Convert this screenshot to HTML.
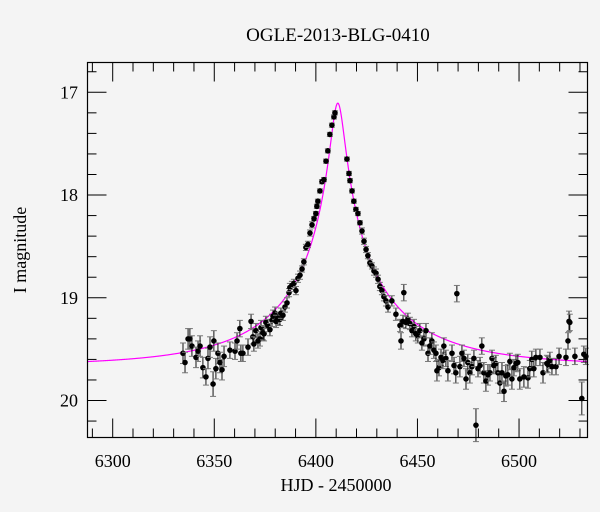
<!DOCTYPE html>
<html><head><meta charset="utf-8"><style>
body{margin:0;background:#f4f4f4;}
svg{display:block;font-family:"Liberation Serif",serif;}
</style></head><body>
<svg id="chart" width="600" height="512" xmlns="http://www.w3.org/2000/svg">
<rect width="600" height="512" fill="#f4f4f4"/>
<text x="338" y="41" font-size="19" text-anchor="middle">OGLE-2013-BLG-0410</text>
<text x="336" y="491" font-size="18" text-anchor="middle">HJD - 2450000</text>
<text transform="translate(26,250) rotate(-90)" font-size="18" text-anchor="middle">I magnitude</text>
<g id="axes"></g><g id="curve"></g><g id="pts"></g>
<rect x="87.5" y="62.5" width="500" height="375" fill="none" stroke="#000" stroke-width="1.2"/>
</svg>
<script>
const times=[6334.6,6335.6,6337.1,6338.0,6339.0,6341.0,6342.0,6343.0,6344.4,6345.9,6346.9,6347.9,6349.4,6349.8,6350.8,6351.8,6352.8,6353.8,6354.8,6357.7,6360.2,6361.2,6362.6,6363.1,6364.1,6366.6,6368.1,6369.0,6369.5,6370.5,6371.5,6372.5,6373.0,6374.0,6374.5,6375.4,6376.4,6377.4,6378.4,6378.9,6379.9,6380.4,6381.3,6382.3,6382.8,6383.8,6384.8,6385.8,6386.8,6387.2,6388.2,6389.2,6390.2,6391.2,6392.2,6393.2,6394.1,6395.1,6396.1,6397.1,6398.1,6399.1,6400.0,6400.5,6401.0,6402.0,6403.0,6404.0,6405.0,6405.9,6406.9,6407.9,6408.9,6409.4,
6415.3,6416.3,6416.8,6417.8,6418.7,6419.7,6420.7,6421.7,6422.7,6423.7,6424.7,6425.6,6426.6,6427.6,6428.6,6429.6,6430.6,6431.5,6432.5,6433.5,6434.5,6435.5,6437.4,6439.4,6441.4,6441.9,6442.9,6443.3,6444.3,6445.3,6446.3,6447.3,6448.3,6449.2,6450.2,6451.2,6452.2,6453.2,6454.2,6455.2,6456.1,6457.1,6458.1,6459.1,6459.6,6460.6,6461.6,6462.5,6463.0,6464.0,6465.0,6467.0,6468.0,6468.9,6469.4,6470.9,6471.9,6472.9,6473.9,6474.8,6475.8,6476.8,6477.8,6478.8,6479.8,6480.8,6481.7,6482.7,6483.7,6484.7,6485.7,6486.7,6487.6,6488.6,6489.6,6490.6,6491.6,6492.6,6493.5,6494.5,6495.5,6496.5,6497.5,6498.5,6499.4,6500.4,6502.4,6504.4,6505.3,6506.3,6507.3,6508.3,6510.3,6511.8,6513.7,6514.2,6515.2,6516.2,6518.2,6519.7,6523.1,6524.1,6524.6,6525.0,6527.5,6530.9,6531.9,6532.9];
const mags=[19.54,19.63,19.40,19.40,19.47,19.58,19.52,19.47,19.68,19.77,19.59,19.48,19.84,19.42,19.69,19.54,19.63,19.70,19.57,19.51,19.52,19.42,19.30,19.54,19.54,19.48,19.23,19.38,19.45,19.32,19.42,19.40,19.29,19.34,19.35,19.24,19.27,19.31,19.22,19.18,19.15,19.23,19.20,19.21,19.15,19.17,19.09,19.05,18.95,18.90,18.88,18.86,18.93,18.81,18.78,18.72,18.65,18.51,18.48,18.37,18.29,18.23,18.18,18.11,18.06,17.96,17.87,17.85,17.67,17.57,17.41,17.32,17.24,17.20,
17.65,17.79,17.86,17.96,18.06,18.14,18.18,18.27,18.35,18.45,18.53,18.59,18.66,18.69,18.74,18.76,18.82,18.89,18.93,18.99,19.03,19.09,19.03,19.16,19.27,19.42,19.23,18.95,19.24,19.21,19.25,19.32,19.28,19.35,19.37,19.32,19.44,19.40,19.32,19.54,19.47,19.42,19.51,19.54,19.71,19.68,19.58,19.61,19.47,19.59,19.71,19.54,19.66,19.73,18.96,19.67,19.54,19.59,19.79,19.63,19.73,19.67,19.59,20.24,19.69,19.66,19.47,19.73,19.81,19.75,19.73,19.59,19.66,19.64,19.73,19.83,19.73,19.91,19.76,19.75,19.62,19.79,19.68,19.64,19.63,19.79,19.77,19.78,19.69,19.60,19.69,19.58,19.58,19.73,19.64,19.65,19.61,19.67,19.67,19.57,19.58,19.42,19.23,19.24,19.57,19.98,19.55,19.57];
const errs=[0.10,0.10,0.10,0.10,0.10,0.10,0.10,0.10,0.10,0.08,0.10,0.10,0.12,0.10,0.10,0.10,0.10,0.10,0.10,0.08,0.08,0.08,0.08,0.08,0.08,0.08,0.07,0.07,0.07,0.07,0.07,0.07,0.07,0.07,0.07,0.06,0.06,0.06,0.06,0.06,0.06,0.06,0.06,0.06,0.05,0.05,0.05,0.05,0.04,0.04,0.04,0.04,0.04,0.04,0.04,0.03,0.03,0.03,0.03,0.03,0.03,0.02,0.02,0.02,0.02,0.02,0.02,0.02,0.02,0.02,0.02,0.02,0.02,0.02,
0.02,0.02,0.02,0.02,0.02,0.02,0.02,0.02,0.03,0.03,0.03,0.03,0.03,0.03,0.04,0.04,0.04,0.04,0.04,0.04,0.05,0.05,0.05,0.06,0.06,0.08,0.06,0.08,0.06,0.06,0.06,0.06,0.07,0.07,0.07,0.07,0.07,0.07,0.07,0.08,0.08,0.08,0.08,0.08,0.10,0.08,0.08,0.08,0.08,0.08,0.10,0.08,0.08,0.10,0.08,0.10,0.08,0.08,0.10,0.08,0.10,0.08,0.08,0.16,0.08,0.08,0.08,0.10,0.10,0.10,0.08,0.08,0.08,0.08,0.10,0.10,0.10,0.10,0.10,0.10,0.08,0.10,0.08,0.08,0.08,0.10,0.10,0.10,0.08,0.08,0.08,0.08,0.08,0.10,0.08,0.08,0.08,0.08,0.08,0.08,0.08,0.08,0.10,0.08,0.08,0.16,0.08,0.08];
const xTickLabels=[6300,6350,6400,6450,6500];
const yTickLabels=[17,18,19,20];
const model={t0:6410.8,tE:66,u0:0.05,fs:0.5,mbase:19.66};

const X0=87.5,X1=587.5,Y0=62.5,Y1=437.5;
const tMin=6287.6,tMax=6533.7,mMin=16.71,mMax=20.36;
const xs=t=>X0+(t-tMin)/(tMax-tMin)*(X1-X0);
const ys=m=>Y0+(m-mMin)/(mMax-mMin)*(Y1-Y0);
const NS="http://www.w3.org/2000/svg";
function mk(tag,attrs,parent){const e=document.createElementNS(NS,tag);for(const k in attrs)e.setAttribute(k,attrs[k]);parent.appendChild(e);return e;}
const axes=document.getElementById('axes');
for(let t=6290;t<=tMax;t+=10){
  const major=t%50===0,L=major?19:9,x=xs(t);
  const a=mk('line',{x1:x,x2:x,y1:Y1,y2:Y1-L,stroke:'#000','stroke-width':1},axes);
  
  
  const b=mk('line',{x1:x,x2:x,y1:Y0,y2:Y0+L,stroke:'#000','stroke-width':1},axes);
  
  
}
xTickLabels.forEach(v=>{
  const tx=mk('text',{x:xs(v),y:467,'font-size':18,'text-anchor':'middle'},axes);
  tx.textContent=v;
  
  
});
for(let i=0;i<=18;i++){
  const m=16.8+i*0.2; if(m>mMax) break;
  const major=Math.abs(m-Math.round(m))<1e-6,L=major?19:9,y=ys(m);
  const a=mk('line',{x1:X0,x2:X0+L,y1:y,y2:y,stroke:'#000','stroke-width':1},axes);
  
  
  const b=mk('line',{x1:X1,x2:X1-L,y1:y,y2:y,stroke:'#000','stroke-width':1},axes);
  
  
}
yTickLabels.forEach(v=>{
  const tx=mk('text',{x:78,y:ys(v)+6,'font-size':18,'text-anchor':'end'},axes);
  tx.textContent=v;
  
  
});
function magAt(t){const tau=(t-model.t0)/model.tE,u=Math.sqrt(tau*tau+model.u0*model.u0);
  const A=(u*u+2)/(u*Math.sqrt(u*u+4));return model.mbase-2.5*Math.log10(model.fs*A+1-model.fs);}
let d='';
for(let t=tMin;t<=tMax;t+=0.2){d+=(d?'L':'M')+xs(t).toFixed(2)+','+ys(magAt(t)).toFixed(2);}
const cv=mk('path',{d:d,fill:'none',stroke:'#ff00ff','stroke-width':1.2},document.getElementById('curve'));


const pts=document.getElementById('pts');
times.forEach((t,i)=>{
  const x=xs(t),y=ys(mags[i]),ya=ys(mags[i]-errs[i]),yb=ys(mags[i]+errs[i]);
  const g=mk('g',{},pts);
  
  
  mk('line',{x1:x,x2:x,y1:ya,y2:yb,stroke:'#111','stroke-width':1},g);
  mk('line',{x1:x-3,x2:x+3,y1:ya,y2:ya,stroke:'#777','stroke-width':1},g);
  mk('line',{x1:x-3,x2:x+3,y1:yb,y2:yb,stroke:'#777','stroke-width':1},g);
  mk('circle',{cx:x,cy:y,r:2.8,fill:'#000'},g);
});
</script>
</body></html>
